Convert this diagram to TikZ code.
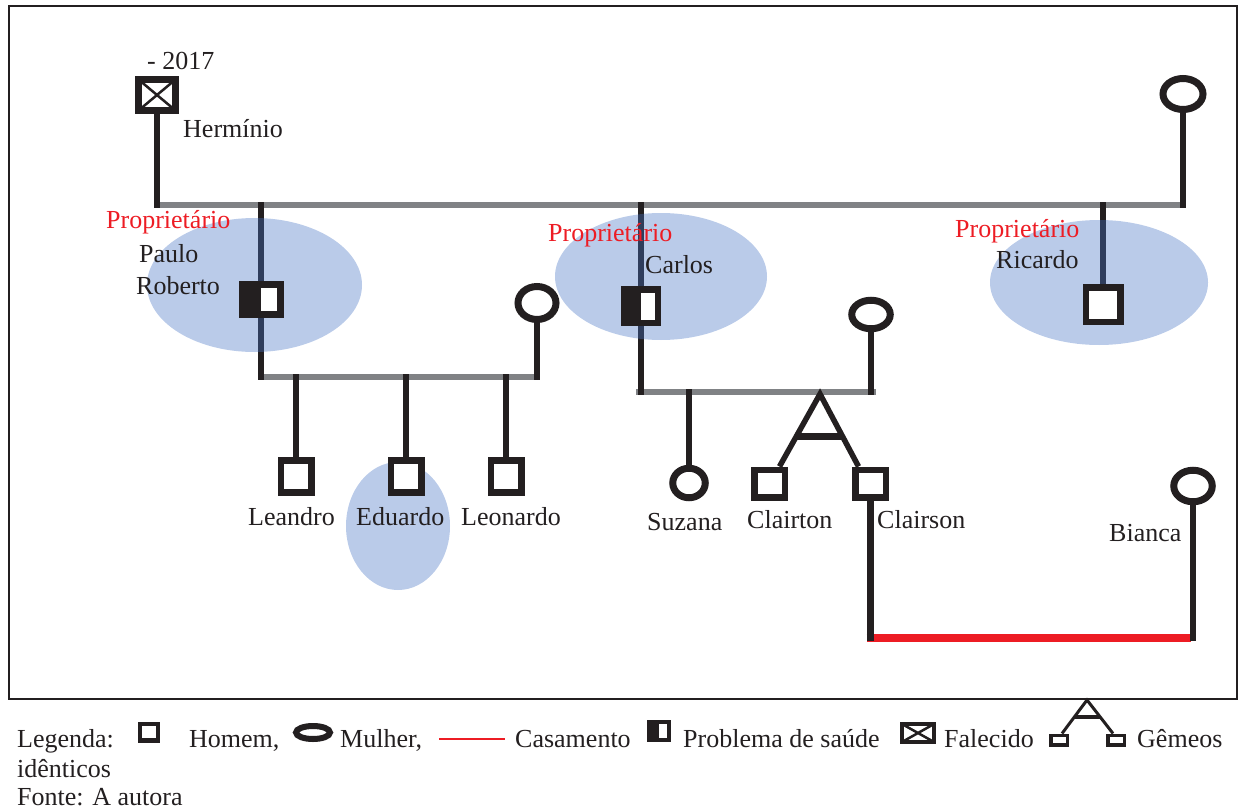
\documentclass[tikz,border=0pt]{standalone}
\usepackage{fontspec}
\setmainfont{Liberation Serif}
\usetikzlibrary{shapes.geometric,calc}
\pgfdeclarelayer{lines}
\pgfdeclarelayer{shade}
\pgfsetlayers{lines,shade,main}
\definecolor{ink}{HTML}{231F20}
\definecolor{rulegray}{HTML}{808285}
\definecolor{wedred}{HTML}{ED1C24}
\definecolor{ownerblue}{HTML}{4472C4}

\begin{document}
\begin{tikzpicture}[x=1pt,y=-1pt,
  male/.style={rectangle,draw=ink,fill=white,line width=6.5pt,inner sep=0pt,
    minimum width=30.5pt,minimum height=32pt},
  female/.style={ellipse,draw=ink,fill=white,line width=7pt,inner sep=0pt,
    minimum width=38pt,minimum height=32pt},
  ill/.style={male,path picture={\fill[ink] (path picture bounding box.south west)
    rectangle (path picture bounding box.north);}},
  dead/.style={male,path picture={\draw[ink,line width=2.5pt]
    (path picture bounding box.south west) -- (path picture bounding box.north east)
    (path picture bounding box.north west) -- (path picture bounding box.south east);}},
  tie/.style={draw=ink,line width=6.5pt,line cap=rect},
  twinleg/.style={draw=ink,line width=5.5pt},
  couple/.style={draw=rulegray,line width=6.5pt},
  wedding/.style={draw=wedred,line width=7.5pt},
  halo/.style={ellipse,fill=ownerblue,fill opacity=0.37,draw=none,inner sep=0pt},
  txt/.style={font=\fontsize{26}{31}\selectfont,text=ink,inner sep=0pt,anchor=base west},
  ownertxt/.style={txt,text=wedred},
]
\useasboundingbox (0,0) rectangle (1240,811);

% frame
\draw[ink,line width=2pt] (9,6) rectangle (1237,699);

% ---------- symbols ----------
\node[dead,minimum width=37pt,minimum height=31pt,line width=7pt] (herminio) at (157,95) {};
\node[female,minimum width=40pt,minimum height=31pt] (topWife) at (1183,94) {};

\node[ill,minimum width=38pt,minimum height=30pt,line width=7pt] (paulo) at (261,299.5) {};
\node[female,minimum width=38pt,minimum height=33pt] (pauloWife) at (537,303) {};
\node[male] (leandro) at (296,476.5) {};
\node[male] (eduardo) at (406,476.5) {};
\node[male] (leonardo) at (506,476.5) {};

\node[ill,minimum width=33.5pt,minimum height=33.5pt] (carlos) at (641,306) {};
\node[female,minimum width=38.5pt,minimum height=28.5pt] (carlosWife) at (871,314.5) {};
\node[female,minimum width=32.5pt,minimum height=29.5pt] (suzana) at (689,483) {};
\node[male,minimum height=27.5pt] (clairton) at (769.5,483.5) {};
\node[male,minimum height=27.5pt] (clairson) at (870.5,483.5) {};
\node[female,minimum width=38.5pt,minimum height=31.5pt] (bianca) at (1193,486) {};

\node[male,minimum width=34.5pt,minimum height=34.5pt] (ricardo) at (1103,304.5) {};

% ---------- junction points ----------
\coordinate (topL) at (157,205);
\coordinate (topR) at (1183,205);
\coordinate (pauloBar) at (537,377);
\coordinate (carlosBar) at (871,392);
\coordinate (apex) at (820,394);
\coordinate (twinL) at ([xshift=10pt]clairton.north);
\coordinate (twinR) at ([xshift=-12pt]clairson.north);
\coordinate (wedY) at (0,638);

% ---------- connectors ----------
\begin{pgfonlayer}{lines}
  \draw[couple] (topL) -- (topR);
  \draw[couple] (paulo |- pauloBar) -- (pauloBar);
  \draw[couple] ([xshift=-5pt]carlos |- carlosBar) -- ([xshift=5pt]carlosBar);
  \draw[wedding] ([xshift=-4pt]clairson |- wedY) -- ([xshift=-2pt]bianca |- wedY);

  \draw[tie] (herminio.south) -- (topL);
  \draw[tie] (topWife.south) -- (topR);
  \draw[tie] (paulo |- topL) -- (paulo |- pauloBar);
  \draw[tie] (pauloWife.south) -- (pauloBar);
  \draw[tie] (leandro.north) -- (leandro |- pauloBar);
  \draw[tie] (eduardo.north) -- (eduardo |- pauloBar);
  \draw[tie] (leonardo.north) -- (leonardo |- pauloBar);

  \draw[tie] (carlos |- topL) -- (carlos |- carlosBar);
  \draw[tie] (carlosWife.south) -- (carlosBar);
  \draw[tie] (suzana.north) -- (suzana |- carlosBar);
  \draw[twinleg] (twinL) -- (apex) -- (twinR);
  \draw[draw=ink,line width=7pt] ($(apex)!0.58!(twinL)$) -- ($(apex)!0.58!(twinR)$);
  \draw[tie] (clairson.south) -- (clairson |- wedY);
  \draw[tie] (bianca.south) -- (bianca |- wedY);

  \draw[tie] (ricardo |- topL) -- (ricardo.north);
\end{pgfonlayer}

% ---------- owner highlights ----------
\begin{pgfonlayer}{shade}
  \node[halo,minimum width=215pt,minimum height=134pt] (pauloHalo) at (254.5,285) {};
  \node[halo,minimum width=212pt,minimum height=127pt] (carlosHalo) at (661,276.5) {};
  \node[halo,minimum width=218pt,minimum height=125pt] (ricardoHalo) at (1099,282.5) {};
  \node[halo,minimum width=104pt,minimum height=128pt] (eduardoHalo) at (398,526) {};
\end{pgfonlayer}

% ---------- names ----------
\node[txt] (deathYear) at (147,69) {- 2017};
\node[txt] (herminioName) at (183,137) {Hermínio};
\node[ownertxt] (pauloOwner) at (106,228) {Proprietário};
\node[txt] (pauloName1) at (139,262) {Paulo};
\node[txt] (pauloName2) at (136,294) {Roberto};
\node[ownertxt] (carlosOwner) at (548,241) {Proprietário};
\node[txt] (carlosName) at (645,273) {Carlos};
\node[ownertxt] (ricardoOwner) at (955,237) {Proprietário};
\node[txt] (ricardoName) at (996,268) {Ricardo};
\node[txt] (leandroName) at (248,525) {Leandro};
\node[txt] (eduardoName) at (356,525) {Eduardo};
\node[txt] (leonardoName) at (461,525) {Leonardo};
\node[txt] (suzanaName) at (647,530) {Suzana};
\node[txt] (clairtonName) at (747,528) {Clairton};
\node[txt] (clairsonName) at (877,528) {Clairson};
\node[txt] (biancaName) at (1109,541) {Bianca};

% ---------- key ----------
\node[txt] (keyTitle) at (17,747) {Legenda:};
\node[rectangle,draw=ink,fill=white,line width=4.5pt,inner sep=0pt,minimum width=18pt,minimum height=16.5pt] (keyMale) at (149,732) {};
\node[txt] (keyMaleText) at (189,747) {Homem,};
\node[ellipse,draw=ink,fill=white,line width=6pt,inner sep=0pt,minimum width=34pt,minimum height=13pt] (keyFemale) at (313,732.5) {};
\node[txt] (keyFemaleText) at (340,747) {Mulher,};
\coordinate (keyWedL) at (439,739);
\coordinate (keyWedR) at (505,739);
\draw[wedred,line width=1.2pt] (keyWedL) -- (keyWedR);
\node[txt] (keyWedText) at (515,747) {Casamento};
\node[ill,line width=4.5pt,minimum width=20pt,minimum height=18pt] (keyIll) at (659,731) {};
\node[txt] (keyIllText) at (683,747) {Problema de saúde};
\node[dead,line width=4.5pt,minimum width=32pt,minimum height=18pt] (keyDead) at (918,733) {};
\node[txt] (keyDeadText) at (944,747) {Falecido};
\node[rectangle,draw=ink,fill=white,line width=3.5pt,inner sep=0pt,minimum width=16.5pt,minimum height=9.5pt] (keyTwinL) at (1059,740) {};
\node[rectangle,draw=ink,fill=white,line width=3.5pt,inner sep=0pt,minimum width=16.5pt,minimum height=9.5pt] (keyTwinR) at (1116,740) {};
\coordinate (keyApex) at (1087,700);
\coordinate (keyLegL) at ([xshift=3pt]keyTwinL.north);
\coordinate (keyLegR) at ([xshift=-3pt]keyTwinR.north);
\draw[ink,line width=3pt] (keyLegL) -- (keyApex) -- (keyLegR);
\draw[ink,line width=3.5pt] ($(keyApex)!0.5!(keyLegL)$) -- ($(keyApex)!0.5!(keyLegR)$);
\node[txt] (keyTwinText) at (1137,747) {Gêmeos};
\node[txt] (keyTwinText2) at (17,777) {idênticos};
\node[txt] (source) at (17,805) {Fonte: A autora};
\end{tikzpicture}
\end{document}
